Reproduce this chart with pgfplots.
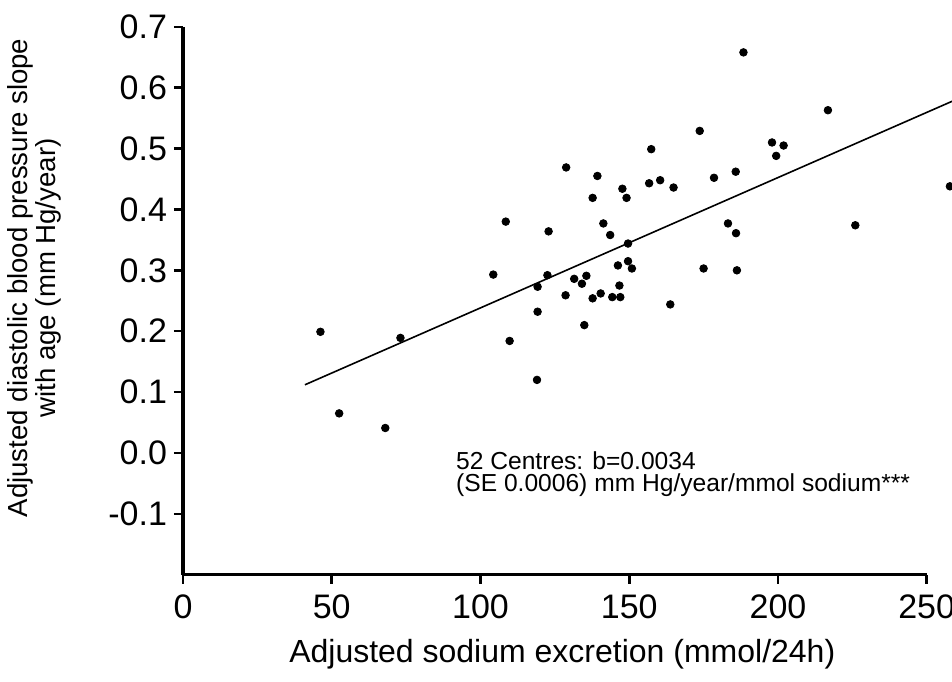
\documentclass[border=0pt]{standalone}
\usepackage{fontspec}
\setmainfont{Liberation Sans}
\usepackage{pgfplots}
\pgfplotsset{compat=1.18}

% centres: adjusted sodium excretion vs diastolic BP slope
\pgfplotstableread{
x y
46.2 0.199
52.5 0.065
68.0 0.041
73.1 0.189
109.8 0.184
119.2 0.232
119.0 0.120
157.4 0.499
128.8 0.469
139.3 0.455
156.7 0.443
160.4 0.448
164.9 0.436
147.7 0.434
149.1 0.419
137.7 0.419
108.5 0.380
122.9 0.364
141.3 0.377
143.6 0.358
149.6 0.344
146.2 0.308
149.6 0.315
150.9 0.303
104.3 0.293
122.5 0.292
119.2 0.273
131.5 0.286
135.6 0.291
134.1 0.278
146.7 0.275
128.6 0.259
140.4 0.262
137.7 0.254
144.3 0.256
147.0 0.256
163.8 0.244
134.9 0.210
188.4 0.658
216.8 0.563
173.7 0.529
198.0 0.510
201.9 0.505
199.4 0.488
178.5 0.452
185.8 0.462
183.2 0.377
185.9 0.361
226.0 0.374
257.8 0.438
175.0 0.303
186.2 0.300
}\centres

\begin{document}
\begin{tikzpicture}
\begin{axis}[
    scale only axis,
    width=371.85pt, height=273.95pt,
    xmin=0, xmax=250, ymin=-0.2, ymax=0.7,
    axis lines=left,
    axis line style={-, line width=1.7pt},
    clip=false,
    xtick={0,50,100,150,200,250},
    xticklabels={0,50,100,150,200,250},
    ytick={-0.1,0,0.1,0.2,0.3,0.4,0.5,0.6,0.7},
    yticklabels={-0.1,0.0,0.1,0.2,0.3,0.4,0.5,0.6,0.7},
    tick align=outside,
    major tick length=4.5pt,
    tick style={line width=1.3pt, black},
    ticklabel style={font=\fontsize{17}{20}\selectfont},
    xticklabel style={yshift=-2pt},
    xlabel={Adjusted sodium excretion (mmol/24h)},
    ylabel={Adjusted diastolic blood pressure slope\\with age (mm Hg/year)},
    xlabel style={font=\fontsize{16}{18}\selectfont, at={(axis description cs:0.51,0)}, anchor=center, yshift=-40pt},
    ylabel style={font=\fontsize{13.8}{14}\selectfont, align=center, at={(axis description cs:-0.2,0.5415)}, anchor=center},
]
\addplot[only marks, mark=*, mark size=1.9pt, black] table[x=x, y=y] {\centres};
\addplot[black, line width=0.8pt] coordinates {(41,0.112) (258.7,0.578)};
\node[anchor=base west, font=\fontsize{12.3}{14}\selectfont, inner sep=0pt] at (axis cs:91.7,-0.027) {52 Centres: b=0.0034};
\node[anchor=base west, font=\fontsize{12.3}{14}\selectfont, inner sep=0pt] at (axis cs:91.7,-0.064) {(SE 0.0006) mm Hg/year/mmol sodium***};
\end{axis}
\pgfresetboundingbox
\path[use as bounding box] (-91.5pt,-53.15pt) rectangle (384.5pt,287.35pt);
\end{tikzpicture}
\end{document}
